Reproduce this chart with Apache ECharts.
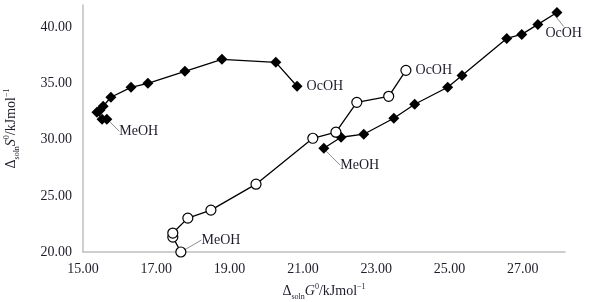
<!DOCTYPE html>
<html>
<head>
<meta charset="utf-8">
<script src="https://cdn.jsdelivr.net/npm/echarts@6/dist/echarts.min.js"></script>
<style>
  html, body { margin: 0; padding: 0; background: #fff; }
  #chart { width: 589px; height: 302px; }
</style>
</head>
<body>
<div id="chart"></div>
<script>
// upper filled-diamond curve (MeOH -> OcOH)
const upperG = [15.65, 15.52, 15.38, 15.46, 15.55, 15.76, 16.31, 16.77, 17.78, 18.79, 20.26, 20.84]
const upperS = [31.82, 31.82, 32.44, 32.62, 32.98, 33.78, 34.67, 35.02, 36.09, 37.16, 36.89, 34.76]

// lower-right filled-diamond curve (MeOH -> OcOH)
const rightG = [21.57, 22.04, 22.66, 23.48, 24.05, 24.95, 25.34, 26.56, 26.97, 27.41, 27.93]
const rightS = [29.24, 30.22, 30.49, 31.91, 33.16, 34.67, 35.73, 39.02, 39.38, 40.27, 41.33]

// open-circle curve (MeOH -> OcOH)
const circleG = [17.67, 17.45, 17.45, 17.86, 18.49, 19.72, 21.27, 21.90, 22.47, 23.34, 23.81]
const circleS = [20.00, 21.33, 21.69, 23.02, 23.73, 26.04, 30.13, 30.67, 33.33, 33.87, 36.18]

const startName = 'MeOH'
const endName = 'OcOH'

const FONT = '"Liberation Serif", "DejaVu Serif", serif'
const textColor = '#1d1d2b'

// label offsets for first / last point of each curve
const labelMoves = {
  upper: { first: [3, 12], last: [0, 0] },
  right: { first: [7, 17], last: [-21, 21] },
  circle: { first: [11, -12], last: [0, 0] }
}

function buildData(key, xs, ys) {
  const moves = labelMoves[key]
  return xs.map(function (x, i) {
    let item = { value: [x, ys[i]] }
    if (i === 0 || i === xs.length - 1) {
      let mv = i === 0 ? moves.first : moves.last
      item.label = {
        show: true,
        formatter: i === 0 ? startName : endName
      }
      item.labelLine = { show: mv[0] !== 0 || mv[1] !== 0 }
    }
    return item
  })
}

function makeSeries(key, xs, ys, symbol, size, fill) {
  const moves = labelMoves[key]
  return {
    type: 'line',
    data: buildData(key, xs, ys),
    symbol: symbol,
    symbolSize: size,
    showAllSymbol: true,
    animation: false,
    lineStyle: { color: '#000', width: 1.3 },
    itemStyle: { color: fill, borderColor: '#000', borderWidth: symbol === 'circle' ? 1.2 : 0 },
    label: {
      show: false,
      position: 'right',
      distance: 4,
      color: textColor,
      fontFamily: FONT,
      fontSize: 14
    },
    labelLine: {
      show: false,
      lineStyle: { color: '#8c8c8c', width: 1 }
    },
    labelLayout: function (params) {
      let mv = params.dataIndex === 0 ? moves.first : moves.last
      return { dx: mv[0], dy: mv[1] }
    },
    z: symbol === 'circle' ? 3 : 2
  }
}

const nameRich = {
  d: { fontFamily: FONT, fontSize: 14, color: textColor, lineHeight: 20, verticalAlign: 'middle' },
  i: { fontFamily: FONT, fontSize: 14, fontStyle: 'italic', color: textColor, lineHeight: 20, verticalAlign: 'middle' },
  sub: { fontFamily: FONT, fontSize: 8, color: textColor, lineHeight: 20, verticalAlign: 'bottom' },
  sup: { fontFamily: FONT, fontSize: 8, color: textColor, lineHeight: 20, verticalAlign: 'top', padding: [2, 0, 0, 0] }
}

const chart = echarts.init(document.getElementById('chart'), null, { renderer: 'canvas' })

chart.setOption({
  animation: false,
  grid: {
    left: 83,
    right: 24,
    top: 5,
    bottom: 50,
    containLabel: false,
    outerBoundsMode: 'none'
  },
  xAxis: {
    type: 'value',
    min: 15,
    max: 28.15,
    interval: 2,
    name: '{d|Δ}{sub|soln}{i|G}{sup|0}{d|/kJmol}{sup|−1}',
    nameLocation: 'middle',
    nameGap: 26,
    nameTextStyle: { rich: nameRich },
    axisLine: { lineStyle: { color: '#bfbfbf', width: 1.5 } },
    axisTick: { show: false },
    splitLine: { show: false },
    axisLabel: {
      margin: 10,
      showMaxLabel: false,
      color: textColor,
      fontFamily: FONT,
      fontSize: 14,
      formatter: function (v) { return v.toFixed(2) }
    }
  },
  yAxis: {
    type: 'value',
    min: 20,
    max: 42,
    interval: 5,
    name: '{d|Δ}{sub|soln}{i|S}{sup|0}{d|/kJmol}{sup|−1}',
    nameLocation: 'middle',
    nameGap: 62,
    nameTextStyle: { rich: nameRich },
    axisLine: { show: true, lineStyle: { color: '#bfbfbf', width: 1.5 } },
    axisTick: { show: false },
    splitLine: { show: false },
    axisLabel: {
      margin: 11,
      showMaxLabel: false,
      color: textColor,
      fontFamily: FONT,
      fontSize: 14,
      formatter: function (v) { return v.toFixed(2) }
    }
  },
  series: [
    makeSeries('upper', upperG, upperS, 'diamond', 11, '#000'),
    makeSeries('right', rightG, rightS, 'diamond', 11, '#000'),
    makeSeries('circle', circleG, circleS, 'circle', 10, '#fff')
  ]
})
</script>
</body>
</html>
